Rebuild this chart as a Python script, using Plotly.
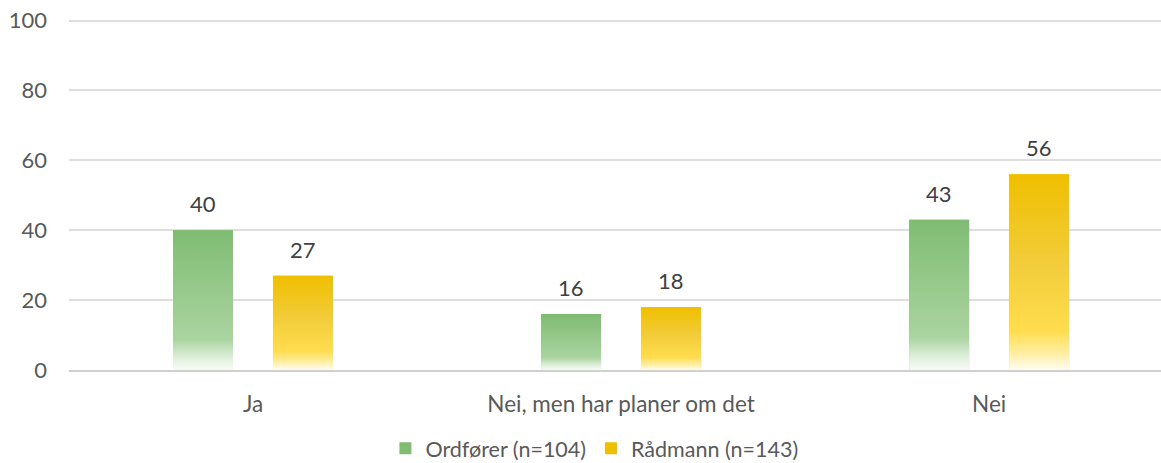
import plotly.graph_objects as go

categories = ["Ja", "Nei, men har planer om det", "Nei"]
series_names = ["Ordfører (n=104)", "Rådmann (n=143)"]
ordforer = [40, 16, 43]
radmann = [27, 18, 56]
y_ticks = [0, 20, 40, 60, 80, 100]

base_colors = ["#80BD73", "#EFC000"]
gradients = [
    [[0, "#F7FBF6"], [0.08, "#E2F0DE"], [0.22, "#AAD4A0"], [1, "#7FBC72"]],
    [[0, "#FFFDF2"], [0.08, "#FFEFA8"], [0.2, "#FFDD4E"], [0.55, "#F2CC3A"], [1, "#EFBF00"]],
]

BARGAP = 0.4565
BARGROUPGAP = 0.4
FONT = "Lato"
FS = 22

fig = go.Figure()
values = [ordforer, radmann]
for name, vals, col in zip(series_names, values, base_colors):
    fig.add_trace(go.Bar(x=categories, y=vals, name=name, marker_color=col,
                         marker_line_width=0, hoverinfo="skip"))

# gradient overlays computed from the same data and bar geometry
slot = (1 - BARGAP) / 2
width = slot * (1 - BARGROUPGAP)
for s, (vals, grad) in enumerate(zip(values, gradients)):
    for i, v in enumerate(vals):
        c = i + (s - 0.5) * slot
        x0, x1 = c - width / 2, c + width / 2
        fig.add_trace(go.Scatter(
            x=[x0, x0, x1, x1, x0], y=[0, v, v, 0, 0], xaxis="x2",
            mode="lines", line=dict(width=0), fill="toself",
            fillgradient=dict(type="vertical", colorscale=grad),
            showlegend=False, hoverinfo="skip"))
        fig.add_annotation(x=c, y=v, xref="x2", yref="y", text=str(v),
                           showarrow=False, yanchor="bottom", yshift=11,
                           font=dict(family=FONT, size=FS, color="#404040"))

xr = [-0.5, 2.467]
fig.update_layout(
    width=1161, height=463,
    margin=dict(l=69, r=0, t=17, b=93, autoexpand=False),
    plot_bgcolor="white", paper_bgcolor="white",
    barmode="group", bargap=BARGAP, bargroupgap=BARGROUPGAP,
    font=dict(family=FONT, size=FS, color="#595959"),
    xaxis=dict(type="category", range=xr, showgrid=False, showline=True,
               linecolor="#D0D0D0", linewidth=2, ticks="", ticklabelstandoff=13,
               automargin=False, tickfont=dict(size=22.5, color="#595959")),
    xaxis2=dict(overlaying="x", range=xr, visible=False, showgrid=False),
    yaxis=dict(range=[0, 101], tickvals=y_ticks, showgrid=True,
               gridcolor="#DEDEDE", gridwidth=1.5, zeroline=False,
               automargin=False,
               ticklabelstandoff=21, tickfont=dict(size=FS, color="#595959")),
    legend=dict(orientation="h", xref="container", yref="container",
                x=0.512, xanchor="center", y=0.032, yanchor="middle",
                font=dict(size=21.5, color="#595959"), itemwidth=30,
                traceorder="normal"),
    showlegend=True,
)

fig.write_html("out.html", config={"displayModeBar": False},
               post_script="document.body.style.margin='0px';")
